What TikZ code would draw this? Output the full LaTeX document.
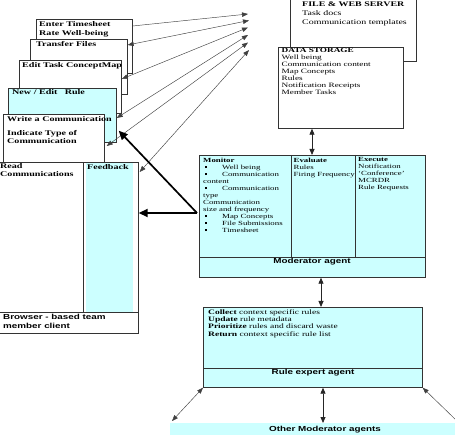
\documentclass[tikz,border=0pt]{standalone}
\usepackage{fontspec}
\setmainfont{Liberation Serif}
\newfontfamily\mysr[FakeStretch=1.4]{Liberation Serif}
\newfontfamily\myss[FakeStretch=1.35]{Liberation Sans}
\usetikzlibrary{arrows.meta,calc}
\definecolor{lcyan}{HTML}{CCFFFF}
\newcommand\mybul{\makebox[19pt][l]{\hspace{2pt}\raisebox{1pt}{\rule{1.6pt}{1.6pt}}}}
\begin{document}
\begin{tikzpicture}[x=1pt,y=-1pt,
  box/.style={draw=black!80,line width=0.7pt,inner sep=0pt,anchor=north west},
  boxline/.style={draw=black!80,line width=0.7pt},
  txt/.style={inner sep=0pt,anchor=north west,align=left},
  wtitle/.style={txt,font=\mysr\bfseries\fontsize{7.2}{9}\selectfont},
  wtitleb/.style={txt,font=\mysr\bfseries\fontsize{7.2}{7.7}\selectfont},
  modtxt/.style={txt,font=\mysr\fontsize{6.3}{7}\selectfont},
  dstxt/.style={txt,font=\mysr\fontsize{6.6}{7}\selectfont},
  srvtxt/.style={txt,font=\mysr\fontsize{7.1}{8.8}\selectfont},
  retxt/.style={txt,font=\mysr\fontsize{6.8}{7.3}\selectfont},
  sslab/.style={inner sep=0pt,align=center,font=\myss\bfseries\fontsize{7.3}{8.6}\selectfont},
  thinc/.style={draw=black!75,line width=0.45pt,>={Triangle[length=6pt,width=4.5pt]}},
  thickc/.style={draw=black,line width=1.7pt,>={Triangle[length=9pt,width=8pt]}},
  midc/.style={draw=black!85,line width=0.8pt,>={Triangle[length=6pt,width=5pt]}},
]
\useasboundingbox (0,0) rectangle (455,435);

% ---- browser windows stack
\node[box,fill=white,minimum width=96pt,minimum height=54pt] (w1) at (36,19) {};
\node[wtitle] at ($(w1.north west)+(3,2)$) {Enter Timesheet\\Rate Well-being};
\node[box,fill=white,minimum width=97pt,minimum height=55pt] (w2) at (30,39) {};
\node[wtitle] at ($(w2.north west)+(6,2.5)$) {Transfer Files};
\node[box,fill=white,minimum width=102pt,minimum height=53pt] (w3) at (19,60) {};
\node[wtitle] at ($(w3.north west)+(3,2.5)$) {Edit Task ConceptMap};
\node[box,fill=lcyan,minimum width=108pt,minimum height=54pt] (w4) at (8,88) {};
\node[wtitle] at ($(w4.north west)+(4,1.5)$) {New / Edit\quad Rule};
\node[box,fill=white,minimum width=101pt,minimum height=48pt] (w5) at (3,114) {};
\node[wtitleb] at ($(w5.north west)+(4,2.5)$) {Write a Communication\\[6.3pt]Indicate Type of\\Communication};

\node[box,fill=white,minimum width=84pt,minimum height=150pt] (rc) at (-1,162) {};
\node[box,fill=white,minimum width=55pt,minimum height=150pt] (fbp) at (83,162) {};
\node[fill=lcyan,inner sep=0pt,anchor=north west,minimum width=47pt,minimum height=149pt] (fbf) at (86,162.6) {};
\node[box,fill=white,minimum width=139pt,minimum height=21pt] (bc) at (-1,312) {};
\node[txt,font=\mysr\bfseries\fontsize{7.2}{8}\selectfont] at (0,163.5) {Read\\Communications};
\node[wtitle] at (87,164.5) {Feedback};
\node[sslab,anchor=north west,align=left] at (3,314.5) {Browser - based team\\member client};

% ---- servers
\node[box,fill=white,minimum width=126pt,minimum height=63pt] (fws) at (290,-2) {};
\node[srvtxt] at (302,1.5) {\textbf{FILE \& WEB SERVER}\\Task docs\\Communication templates};
\node[box,fill=white,minimum width=125pt,minimum height=81pt] (ds) at (278,47) {};
\node[dstxt] at (281.5,48) {\textbf{DATA STORAGE}\\Well being\\Communication content\\Map Concepts\\Rules\\Notification Receipts\\Member Tasks};

% ---- moderator agent
\node[box,fill=lcyan,minimum width=226pt,minimum height=122pt] (ma) at (199,155) {};
\draw[boxline] (291,155) -- (291,257);
\draw[boxline] (355,155) -- (355,257);
\draw[boxline] (199,257) -- (425,257);
\node[modtxt] at (203,157.5) {\textbf{Monitor}\\
\mybul Well being\\
\mybul Communication\\
content\\
\mybul Communication\\
type\\
Communication\\
size and frequency\\
\mybul Map Concepts\\
\mybul File Submissions\\
\mybul Timesheet};
\node[modtxt] at (293.5,157.5) {\textbf{Evaluate}\\Rules\\Firing Frequency};
\node[modtxt] at (358,157.5) {\textbf{Execute}\\Notification\\‘Conference’\\MCRDR\\Rule Requests};
\node[sslab] at (312,262) {Moderator agent};

% ---- rule expert agent
\node[box,fill=lcyan,minimum width=219pt,minimum height=80pt] (re) at (203,307) {};
\draw[boxline] (203,368) -- (422,368);
\node[retxt] at (208,309.3) {\textbf{Collect} context specific rules\\
\textbf{Update} rule metadata\\
\textbf{Prioritize} rules and discard waste\\
\textbf{Return} context specific rule list};
\node[sslab] at (313,373) {Rule expert agent};

% ---- other moderator agents
\node[fill=lcyan,inner sep=0pt,anchor=north west,minimum width=290pt,minimum height=14pt] (oma) at (170,423) {};
\node[sslab] at (325,429.5) {Other Moderator agents};

% ---- vertical connectors
\coordinate (ax1) at (312,0);
\coordinate (ax2) at (321,0);
\coordinate (ax3) at (323,0);
\draw[midc,<->] (ds.south -| ax1) -- (ma.north -| ax1);
\draw[midc,<->] (ma.south -| ax2) -- (re.north -| ax2);
\draw[midc,<->] (re.south -| ax3) -- (oma.north -| ax3);
\coordinate (dl) at (172,421);
\coordinate (dr) at (457,421);
\draw[thinc,<->] (dl) -- (re.south west);
\draw[thinc,->] (dr) -- (re.south east);

% ---- client to server connectors
\coordinate (s1) at (248,14);
\coordinate (s2) at (249,20.5);
\coordinate (s3) at (248,27.5);
\coordinate (s4) at (248,35);
\coordinate (s5) at (248,42.5);
\coordinate (s6) at (249,50);
\draw[thinc,->] ($(w1.north east)+(0,7)$) -- (s1);
\draw[thinc,<->] ($(w2.north east)+(0,6)$) -- (s2);
\draw[thinc,<->] ($(w3.north east)+(0,19)$) -- (s3);
\draw[thinc,<->] ($(w4.north east)+(0,30)$) -- (s4);
\draw[thinc,<->] ($(w5.north east)+(2,32)$) -- (s5);
\draw[thinc,<->] ($(fbp.north east)+(1,10)$) -- (s6);

% ---- thick connectors from moderator
\coordinate (tk) at (197,213);
\draw[thickc,->] (tk) -- ($(w4.south east)+(2,-12)$);
\draw[thickc,->] (tk) -- (fbp.east |- tk);
\end{tikzpicture}
\end{document}
